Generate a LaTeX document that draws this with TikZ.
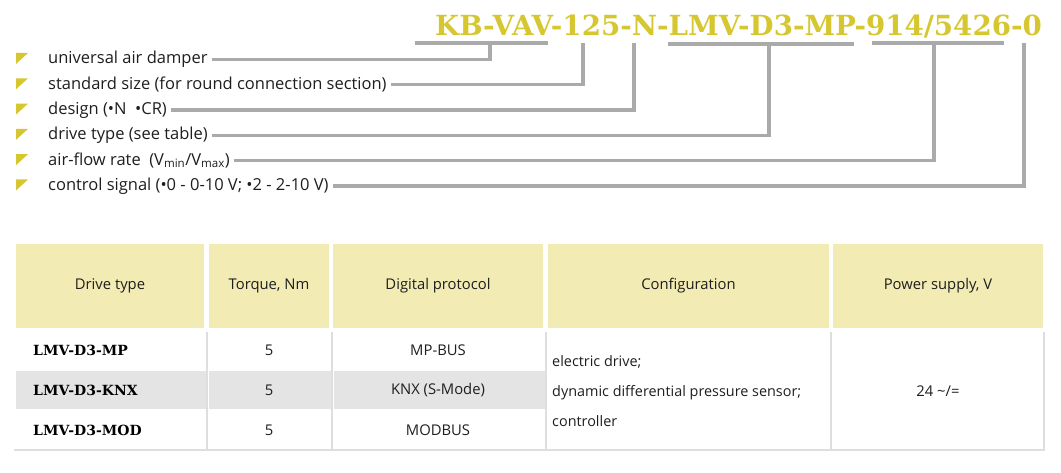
\documentclass[tikz,border=0pt]{standalone}
\usepackage{fontspec}
\setmainfont{Open Sans}
\newfontfamily\codefont{DejaVu Serif}
\definecolor{olive}{RGB}{214,199,48}
\definecolor{hyel}{RGB}{243,235,180}
\definecolor{lgray}{RGB}{170,170,170}
\definecolor{rgray}{RGB}{228,228,228}
\definecolor{sgray}{RGB}{222,222,222}
\definecolor{ink}{RGB}{30,30,30}
\begin{document}
\begin{tikzpicture}[x=1pt,y=-1pt,
  lead/.style={draw=lgray,line width=3.2pt},
  item/.style={anchor=west,text=ink,font=\fontsize{16.5}{18}\selectfont,text height=13pt,text depth=4pt,inner xsep=4pt,inner ysep=0pt},
  hcell/.style={fill=hyel,minimum width=#1,minimum height=84pt,inner sep=0pt,text=ink,font=\fontsize{14.8}{17}\selectfont},
  cell/.style={text=ink,font=\fontsize{14.8}{17}\selectfont,inner sep=0pt},
  tcell/.style={anchor=west,text=black,font=\codefont\bfseries\fontsize{14}{16}\selectfont,inner sep=0pt},
  sep/.style={draw=sgray,line width=2pt}]
\useasboundingbox (0,0) rectangle (1061,473);
\node[anchor=base west, font=\codefont\bfseries\fontsize{27.7}{30}\selectfont, text=olive, inner sep=0pt] (code) at (435,36) {KB-VAV-125-N-LMV-D3-MP-914/5426-0};
\fill[olive] (16,53) -- (28,53) -- (16,64) -- cycle;
\fill[olive] (16,78.3) -- (28,78.3) -- (16,89.3) -- cycle;
\fill[olive] (16,103.6) -- (28,103.6) -- (16,114.6) -- cycle;
\fill[olive] (16,128.9) -- (28,128.9) -- (16,139.9) -- cycle;
\fill[olive] (16,154.2) -- (28,154.2) -- (16,165.2) -- cycle;
\fill[olive] (16,179.5) -- (28,179.5) -- (16,190.5) -- cycle;
\node[item] (lab1) at (44,59.5) {universal air damper};
\node[item] (lab2) at (44,84.8) {standard size (for round connection section)};
\node[item] (lab3) at (44,110.1) {design (•N\ \ •CR)};
\node[item] (lab4) at (44,135.4) {drive type (see table)};
\node[item] (lab5) at (44,160.7) {air-flow rate\ \ (V\textsubscript{min}/V\textsubscript{max})};
\node[item] (lab6) at (44,186) {control signal (•0 - 0-10 V; •2 - 2-10 V)};
\coordinate (bar1a) at (415,43);
\coordinate (bar1b) at (548,43);
\coordinate (st1) at (490,43);
\coordinate (st2) at (583,43);
\coordinate (st3) at (634,43);
\coordinate (bar4a) at (668,44);
\coordinate (bar4b) at (854,44);
\coordinate (st4) at (769,44);
\coordinate (bar5a) at (872,43);
\coordinate (bar5b) at (1004,43);
\coordinate (st5) at (934,43);
\coordinate (st6) at (1024,43);
\draw[lead](bar1a) -- (bar1b);
\draw[lead](bar4a) -- (bar4b);
\draw[lead](bar5a) -- (bar5b);
\draw[lead](lab1.east) -| (st1);
\draw[lead](lab2.east) -| (st2);
\draw[lead](lab3.east) -| (st3);
\draw[lead](lab4.east) -| (st4);
\draw[lead](lab5.east) -| (st5);
\draw[lead](lab6.east) -| (st6);
\node[hcell=188pt] (hd1) at (110,286) {Drive type};
\node[hcell=120pt] (hd2) at (269,286) {Torque, Nm};
\node[hcell=210pt] (hd3) at (438,286) {Digital protocol};
\node[hcell=281pt] (hd4) at (688.5,286) {Configuration};
\node[hcell=210pt] (hd5) at (938,286) {Power supply, V};
\draw[sep] (207,332) -- (207,449);
\draw[sep] (332,332) -- (332,449);
\draw[sep] (546,332) -- (546,449);
\draw[sep] (831,332) -- (831,449);
\draw[sep] (1044,332) -- (1044,450.5);
\fill[rgray] (16,371) rectangle (205.5,409);
\fill[rgray] (208.5,371) rectangle (330.5,409);
\fill[rgray] (333.5,371) rectangle (545,409);
\draw[sep] (14,449.5) -- (1045,449.5);
\node[tcell] (typ1) at (33,350.5) {LMV-D3-MP};
\node[tcell] (typ2) at (33,390) {LMV-D3-KNX};
\node[tcell] (typ3) at (33,430) {LMV-D3-MOD};
\node[cell] (trq1) at (269,350.5) {5};
\node[cell] (trq2) at (269,390) {5};
\node[cell] (trq3) at (269,430) {5};
\node[cell] (prt1) at (438,350.5) {MP-BUS};
\node[cell] (prt2) at (438,390) {KNX (S-Mode)};
\node[cell] (prt3) at (438,430) {MODBUS};
\node[cell, anchor=west, align=left, font=\fontsize{14.4}{30}\selectfont] (cfg) at (552,391) {electric drive;\\dynamic differential pressure sensor;\\controller};
\node[cell] (pwr) at (938,391) {24 \textasciitilde/=};
\end{tikzpicture}
\end{document}
